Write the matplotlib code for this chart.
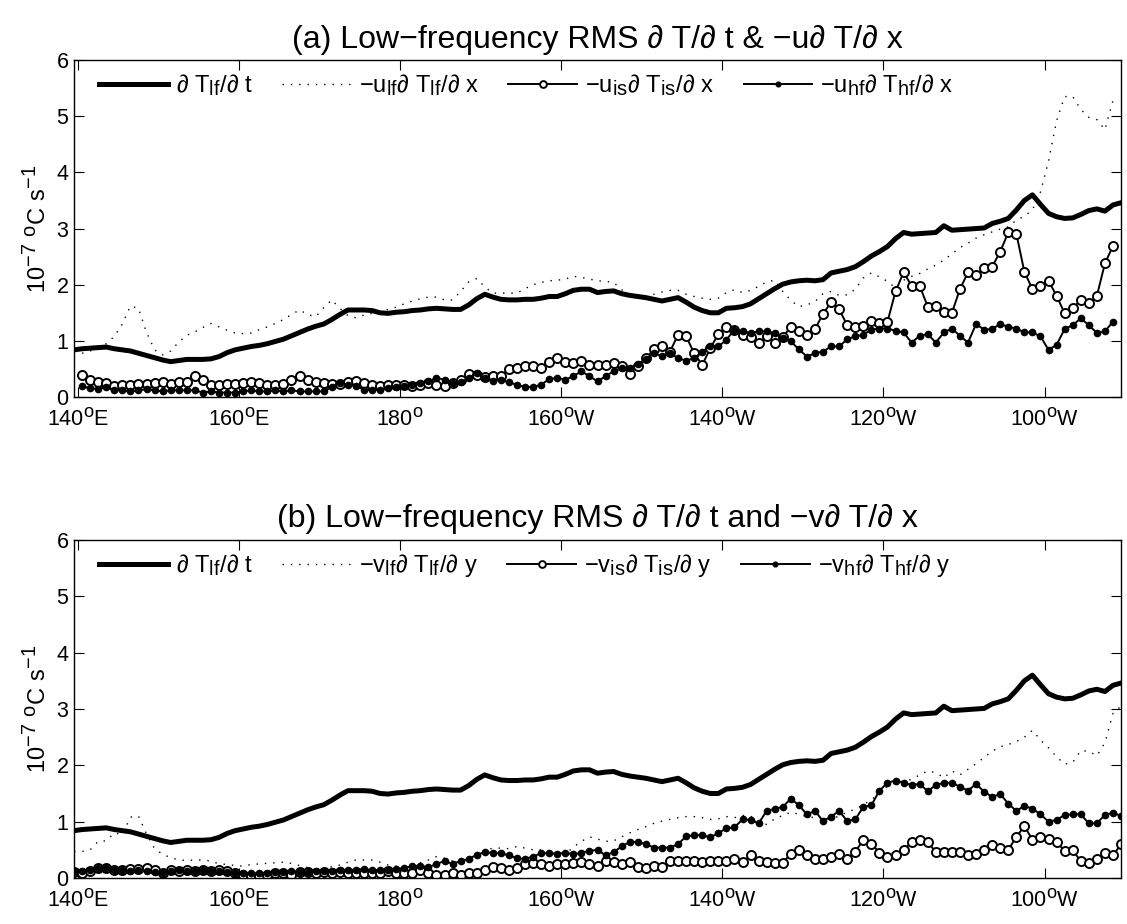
import numpy as np
import matplotlib
matplotlib.use("Agg")
import matplotlib.pyplot as plt
import matplotlib._mathtext as mt

plt.rcParams['font.family'] = ['Liberation Sans', 'DejaVu Sans']
plt.rcParams['mathtext.default'] = 'regular'
# MATLAB draws sub/superscripts nearly full size
mt.SHRINK_FACTOR = 0.85

nan = np.nan

# longitude grid (degrees east), 1 degree spacing
lon = np.arange(139.5, 270.0, 1.0)

# low-frequency RMS dT/dt (same in both panels)
dTdt_lf = [
    0.84, 0.86, 0.87, 0.88, 0.89, 0.86, 0.84, 0.82, 0.78, 0.74,
    0.70, 0.66, 0.63, 0.65, 0.67, 0.67, 0.67, 0.68, 0.72, 0.79,
    0.84, 0.87, 0.90, 0.92, 0.95, 0.99, 1.03, 1.09, 1.15, 1.21,
    1.26, 1.30, 1.38, 1.47, 1.55, 1.55, 1.55, 1.54, 1.50, 1.49,
    1.51, 1.52, 1.54, 1.55, 1.57, 1.58, 1.57, 1.56, 1.56, 1.64,
    1.75, 1.83, 1.78, 1.74, 1.73, 1.73, 1.74, 1.74, 1.76, 1.79,
    1.79, 1.84, 1.90, 1.92, 1.92, 1.86, 1.88, 1.89, 1.84, 1.81,
    1.79, 1.77, 1.74, 1.71, 1.74, 1.77, 1.69, 1.60, 1.54, 1.50,
    1.50, 1.58, 1.59, 1.61, 1.66, 1.75, 1.84, 1.93, 2.01, 2.05,
    2.07, 2.08, 2.07, 2.09, 2.21, 2.24, 2.27, 2.32, 2.41, 2.51,
    2.59, 2.68, 2.82, 2.93, 2.90, 2.91, 2.92, 2.93, 3.05, 2.97,
    2.98, 2.99, 3.00, 3.01, 3.09, 3.13, 3.18, 3.33, 3.50, 3.60,
    3.43, 3.27, 3.21, 3.18, 3.19, 3.25, 3.32, 3.35, 3.31, 3.42,
    3.46]

# panel (a): zonal advection terms
uadv_lf = [
    nan, 0.78, 0.82, 0.88, 0.95, 1.08, 1.30, 1.62, 1.58, 1.15,
    0.84, 0.75, 0.82, 0.98, 1.10, 1.16, 1.24, 1.31, 1.25, 1.19,
    1.14, 1.13, 1.14, 1.20, 1.25, 1.31, 1.38, 1.47, 1.55, 1.47,
    1.43, 1.59, 1.73, 1.58, 1.45, 1.41, 1.46, 1.49, 1.52, 1.56,
    1.60, 1.66, 1.71, 1.75, 1.78, 1.78, 1.73, 1.73, 1.88, 2.05,
    2.11, 1.96, 1.85, 1.85, 1.85, 1.85, 1.93, 2.00, 2.04, 2.07,
    2.08, 2.10, 2.15, 2.13, 2.10, 2.07, 2.06, 2.04, 1.91, 1.83,
    1.81, 1.79, 1.83, 1.87, 1.90, 1.90, 1.83, 1.79, 1.76, 1.74,
    1.76, 1.86, 1.91, 1.86, 1.90, 1.97, 2.05, 2.08, 1.88, 1.72,
    1.61, 1.64, 1.70, 1.84, 1.88, 1.81, 1.82, 1.92, 2.12, 2.21,
    2.14, 2.06, 1.94, 2.08, 2.15, 2.20, 2.28, 2.35, 2.44, 2.55,
    2.66, 2.74, 2.83, 2.89, 2.94, 2.99, 3.03, 3.15, 3.22, 3.33,
    3.65, 4.20, 4.92, 5.35, 5.35, 5.12, 4.98, 4.94, 4.76, 5.28,
    nan]

uadv_is = [
    nan, 0.40, 0.31, 0.26, 0.25, 0.20, 0.22, 0.22, 0.24, 0.24,
    0.25, 0.26, 0.24, 0.26, 0.26, 0.37, 0.30, 0.22, 0.21, 0.24,
    0.24, 0.25, 0.26, 0.25, 0.22, 0.22, 0.24, 0.31, 0.37, 0.30,
    0.27, 0.25, 0.24, 0.24, 0.26, 0.28, 0.25, 0.22, 0.19, 0.21,
    0.22, 0.22, 0.20, 0.22, 0.25, 0.22, 0.19, 0.25, 0.31, 0.41,
    0.40, 0.36, 0.38, 0.38, 0.50, 0.51, 0.56, 0.56, 0.51, 0.63,
    0.69, 0.63, 0.60, 0.65, 0.57, 0.57, 0.57, 0.60, 0.56, 0.41,
    0.56, 0.69, 0.85, 0.90, 0.81, 1.11, 1.08, 0.78, 0.57, 0.87,
    1.12, 1.24, 1.20, 1.11, 1.07, 0.97, 1.08, 0.97, 1.07, 1.25,
    1.17, 1.11, 1.21, 1.48, 1.69, 1.56, 1.28, 1.25, 1.27, 1.36,
    1.31, 1.34, 1.88, 2.22, 1.98, 1.98, 1.61, 1.62, 1.51, 1.50,
    1.92, 2.22, 2.17, 2.30, 2.32, 2.59, 2.93, 2.91, 2.23, 1.92,
    1.98, 2.07, 1.80, 1.49, 1.58, 1.73, 1.68, 1.80, 2.38, 2.69,
    nan]

uadv_hf = [
    nan, 0.19, 0.16, 0.14, 0.18, 0.12, 0.12, 0.10, 0.12, 0.14,
    0.12, 0.10, 0.12, 0.12, 0.12, 0.12, 0.08, 0.10, 0.08, 0.08,
    0.08, 0.10, 0.12, 0.10, 0.10, 0.12, 0.10, 0.12, 0.10, 0.10,
    0.10, 0.10, 0.18, 0.25, 0.22, 0.20, 0.13, 0.12, 0.13, 0.16,
    0.18, 0.20, 0.22, 0.25, 0.28, 0.34, 0.31, 0.25, 0.26, 0.34,
    0.43, 0.34, 0.28, 0.31, 0.26, 0.22, 0.18, 0.18, 0.22, 0.32,
    0.34, 0.31, 0.37, 0.46, 0.37, 0.28, 0.37, 0.46, 0.51, 0.51,
    0.59, 0.67, 0.78, 0.73, 0.78, 0.69, 0.65, 0.69, 0.81, 0.91,
    0.90, 1.02, 1.20, 1.17, 1.14, 1.17, 1.17, 1.14, 1.05, 0.99,
    0.85, 0.72, 0.78, 0.81, 0.90, 0.90, 1.03, 1.08, 1.11, 1.20,
    1.22, 1.22, 1.18, 1.15, 0.97, 1.09, 1.12, 0.97, 1.15, 1.22,
    1.09, 0.97, 1.30, 1.20, 1.21, 1.30, 1.25, 1.22, 1.15, 1.15,
    1.08, 0.84, 0.93, 1.21, 1.28, 1.40, 1.28, 1.14, 1.17, 1.34,
    nan]

# panel (b): meridional advection terms
vadv_lf = [
    0.47, 0.47, 0.50, 0.65, 0.66, 0.80, 0.77, 1.08, 1.10, 0.78,
    0.52, 0.42, 0.36, 0.32, 0.31, 0.32, 0.32, 0.30, 0.25, 0.24,
    0.22, 0.21, 0.24, 0.25, 0.26, 0.27, 0.28, 0.26, 0.22, 0.18,
    0.15, 0.17, 0.20, 0.23, 0.28, 0.32, 0.32, 0.32, 0.28, 0.23,
    0.21, 0.21, 0.23, 0.27, 0.32, 0.38, 0.35, 0.30, 0.31, 0.33,
    0.41, 0.49, 0.53, 0.53, 0.52, 0.56, 0.53, 0.50, 0.50, 0.46,
    0.38, 0.42, 0.55, 0.65, 0.73, 0.69, 0.65, 0.66, 0.73, 0.80,
    0.86, 0.91, 0.97, 1.01, 1.04, 1.07, 1.09, 1.09, 1.07, 1.04,
    1.05, 1.09, 1.07, 1.11, 1.10, 1.00, 0.95, 1.05, 1.11, 1.17,
    1.13, 1.09, 1.07, 1.04, 1.05, 1.10, 1.17, 1.22, 1.30, 1.39,
    1.50, 1.63, 1.69, 1.72, 1.75, 1.83, 1.90, 1.87, 1.78, 1.90,
    1.83, 1.93, 2.03, 2.14, 2.25, 2.33, 2.37, 2.42, 2.50, 2.62,
    2.45, 2.31, 2.15, 2.02, 2.05, 2.26, 2.25, 2.17, 2.40, 2.92,
    3.05]

vadv_is = [
    0.10, 0.09, 0.12, 0.18, 0.18, 0.14, 0.14, 0.16, 0.16, 0.18,
    0.14, 0.09, 0.14, 0.12, 0.14, 0.12, 0.14, 0.12, 0.14, 0.12,
    0.09, 0.06, 0.04, 0.03, 0.06, 0.09, 0.08, 0.06, 0.10, 0.10,
    0.09, 0.10, 0.09, 0.10, 0.09, 0.09, 0.08, 0.09, 0.09, 0.12,
    0.09, 0.08, 0.09, 0.14, 0.09, 0.06, 0.06, 0.09, 0.06, 0.09,
    0.09, 0.15, 0.19, 0.18, 0.14, 0.18, 0.24, 0.27, 0.24, 0.22,
    0.24, 0.24, 0.27, 0.28, 0.24, 0.21, 0.30, 0.28, 0.24, 0.28,
    0.20, 0.18, 0.21, 0.20, 0.30, 0.30, 0.30, 0.30, 0.28, 0.31,
    0.30, 0.31, 0.33, 0.28, 0.40, 0.31, 0.28, 0.27, 0.27, 0.43,
    0.49, 0.40, 0.33, 0.34, 0.37, 0.43, 0.34, 0.47, 0.67, 0.61,
    0.45, 0.37, 0.40, 0.50, 0.64, 0.67, 0.64, 0.46, 0.46, 0.46,
    0.46, 0.40, 0.43, 0.50, 0.58, 0.54, 0.50, 0.73, 0.92, 0.68,
    0.73, 0.69, 0.64, 0.48, 0.49, 0.30, 0.26, 0.33, 0.45, 0.40,
    0.60]

vadv_hf = [
    0.10, 0.12, 0.15, 0.18, 0.18, 0.14, 0.14, 0.12, 0.14, 0.12,
    0.11, 0.09, 0.12, 0.14, 0.12, 0.12, 0.14, 0.12, 0.12, 0.11,
    0.09, 0.09, 0.08, 0.08, 0.09, 0.10, 0.10, 0.12, 0.11, 0.10,
    0.12, 0.12, 0.12, 0.14, 0.14, 0.15, 0.16, 0.14, 0.14, 0.15,
    0.16, 0.18, 0.21, 0.22, 0.19, 0.25, 0.30, 0.25, 0.30, 0.34,
    0.41, 0.46, 0.44, 0.44, 0.40, 0.35, 0.34, 0.38, 0.44, 0.44,
    0.43, 0.45, 0.42, 0.45, 0.48, 0.50, 0.40, 0.46, 0.56, 0.64,
    0.64, 0.60, 0.54, 0.54, 0.54, 0.60, 0.74, 0.76, 0.76, 0.72,
    0.80, 0.88, 0.90, 1.04, 1.03, 0.97, 1.19, 1.23, 1.26, 1.41,
    1.29, 1.13, 1.19, 1.01, 1.09, 1.19, 1.01, 1.04, 1.26, 1.29,
    1.55, 1.69, 1.73, 1.69, 1.65, 1.67, 1.54, 1.65, 1.69, 1.69,
    1.62, 1.55, 1.67, 1.53, 1.44, 1.49, 1.32, 1.19, 1.28, 1.23,
    1.13, 1.00, 1.03, 1.12, 1.13, 1.13, 0.97, 0.97, 1.12, 1.16,
    1.10]

xticks = [140, 160, 180, 200, 220, 240, 260]
xticklabels = ['140$^{o}$E', '160$^{o}$E', '180$^{o}$', '160$^{o}$W',
               '140$^{o}$W', '120$^{o}$W', '100$^{o}$W']

titles = [u'(a) Low\u2212frequency RMS \u2202 T/\u2202 t & \u2212u\u2202 T/\u2202 x',
          u'(b) Low\u2212frequency RMS \u2202 T/\u2202 t and \u2212v\u2202 T/\u2202 x']
labels_a = [u'\u2202 T$_{lf}$/\u2202 t', u'\u2212u$_{lf}$\u2202 T$_{lf}$/\u2202 x',
            u'\u2212u$_{is}$\u2202 T$_{is}$/\u2202 x', u'\u2212u$_{hf}$\u2202 T$_{hf}$/\u2202 x']
labels_b = [u'\u2202 T$_{lf}$/\u2202 t', u'\u2212v$_{lf}$\u2202 T$_{lf}$/\u2202 y',
            u'\u2212v$_{is}$\u2202 T$_{is}$/\u2202 y', u'\u2212v$_{hf}$\u2202 T$_{hf}$/\u2202 y']

fig = plt.figure(figsize=(11.27, 9.24), dpi=100)
ax1 = fig.add_axes([0.0657, 0.5703, 0.929, 0.3647])
ax2 = fig.add_axes([0.0657, 0.0498, 0.929, 0.3658])

panels = [(ax1, uadv_lf, uadv_is, uadv_hf, labels_a, titles[0]),
          (ax2, vadv_lf, vadv_is, vadv_hf, labels_b, titles[1])]

for ax, lf, ins, hf, labels, title in panels:
    h1, = ax.plot(lon, dTdt_lf, color='k', lw=3.6, solid_joinstyle='round')
    h2, = ax.plot(lon, lf, color='k', lw=1.0, linestyle=(0, (1, 5)))
    h3, = ax.plot(lon, ins, color='k', lw=1.4, marker='o', ms=6.5,
                  mfc='white', mec='k', mew=1.4)
    h4, = ax.plot(lon, hf, color='k', lw=1.4, marker='o', ms=4.5,
                  mfc='k', mec='k')

    ax.set_xlim(139.5, 269.5)
    ax.set_ylim(0, 6)
    ax.set_xticks(xticks)
    ax.set_xticklabels(xticklabels)
    ax.set_yticks(range(7))
    ax.tick_params(direction='in', length=7, width=0.8, top=True, right=True,
                   labelsize=15.5)
    ax.tick_params(axis='x', pad=8)
    ax.tick_params(axis='y', pad=4)
    for s in ax.spines.values():
        s.set_linewidth(1.0)
    ax.set_ylabel('10$^{-7}$ $^{o}$C s$^{-1}$', fontsize=17, labelpad=4)
    ax.set_title(title, fontsize=23, pad=9)

    leg = ax.legend([h1, h2, h3, h4], labels, ncol=4, loc='center left',
                    bbox_to_anchor=(0.024, 0.925), frameon=False,
                    fontsize=17, handlelength=2.9, handletextpad=0.35,
                    columnspacing=1.25, borderpad=0, borderaxespad=0,
                    numpoints=1, markerscale=0.75)

fig.savefig('out.png', dpi=100)
